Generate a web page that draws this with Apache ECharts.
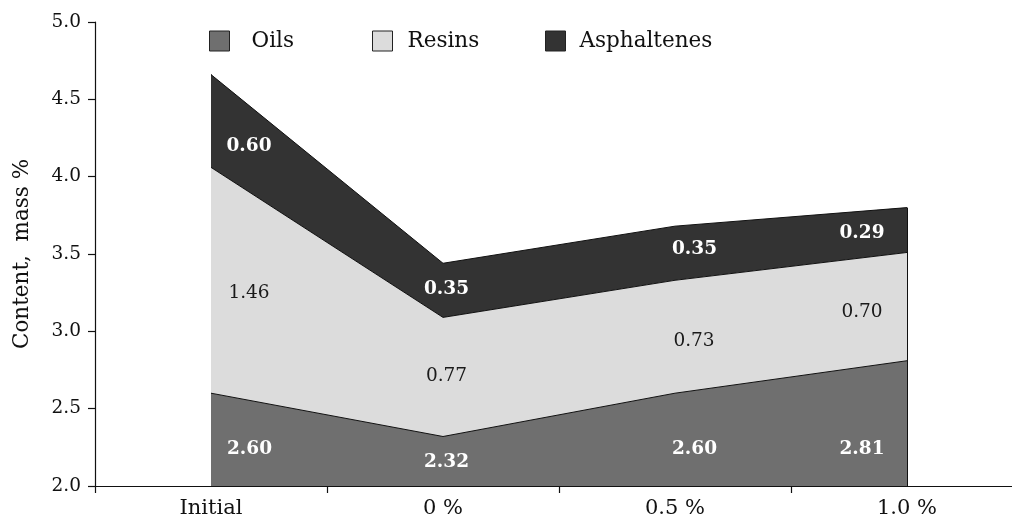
<!DOCTYPE html>
<html>
<head>
<meta charset="utf-8">
<script src="https://cdn.jsdelivr.net/npm/echarts@6/dist/echarts.min.js"></script>
<style>html,body{margin:0;padding:0;background:#fff}#c{width:1012px;height:521px}</style>
</head>
<body>
<div id="c"></div>
<script>
var categories = ['Initial', '0 %', '0.5 %', '1.0 %'];
var oils = [2.60, 2.32, 2.60, 2.81];
var resins = [1.46, 0.77, 0.73, 0.70];
var asphaltenes = [0.60, 0.35, 0.35, 0.29];
var seriesNames = ['Oils', 'Resins', 'Asphaltenes'];
var yTicks = [2.0, 2.5, 3.0, 3.5, 4.0, 4.5, 5.0];

// layout: label offsets (pixels) from each stacked point
var labelOffsets = {
  Oils: [[38.5, 56], [3.5, 25.5], [19.5, 56], [-45, 88]],
  Resins: [[38, 125.5], [3.5, 58.5], [19, 60.5], [-45, 59.5]],
  Asphaltenes: [[38, 71.5], [3.5, 25.5], [19.5, 23], [-45, 25.5]]
};
var FONT = 'DejaVu Serif';
var colors = { Oils: '#6f6f6f', Resins: '#dcdcdc', Asphaltenes: '#333333' };
var labelStyles = {
  Oils: { color: '#ffffff', fontWeight: 'bold', fontSize: 18.5 },
  Resins: { color: '#1a1a1a', fontWeight: 'normal', fontSize: 18.5 },
  Asphaltenes: { color: '#ffffff', fontWeight: 'bold', fontSize: 18.5 }
};

var values = { Oils: oils, Resins: resins, Asphaltenes: asphaltenes };
var totals = oils.map(function (v, i) { return v + resins[i] + asphaltenes[i]; });
var last = categories.length - 1;

var series = seriesNames.map(function (name, si) {
  var ls = labelStyles[name];
  return {
    name: name,
    type: 'line',
    stack: 'total',
    z: 10 - si,
    symbol: 'circle',
    symbolSize: 0,
    showSymbol: true,
    animation: false,
    itemStyle: { color: colors[name] },
    lineStyle: { color: '#111', width: 1 },
    areaStyle: { color: colors[name], opacity: 1 },
    label: {
      show: true,
      position: 'inside',
      fontFamily: FONT,
      fontSize: ls.fontSize,
      fontWeight: ls.fontWeight,
      color: ls.color,
      formatter: function (p) { return p.value.toFixed(2); }
    },
    data: values[name].map(function (v, i) {
      return { value: v, label: { offset: labelOffsets[name][i] } };
    }),
    markLine: name === 'Asphaltenes' ? {
      silent: true,
      symbol: 'none',
      label: { show: false },
      lineStyle: { color: '#111', width: 1, type: 'solid' },
      data: [
        [{ coord: [categories[0], yTicks[0]] }, { coord: [categories[0], totals[0]] }],
        [{ coord: [categories[last], yTicks[0]] }, { coord: [categories[last], totals[last]] }]
      ]
    } : undefined
  };
});

var legendPos = { Oils: [209, 17], Resins: [372, 10], Asphaltenes: [545, 9] };
var legends = seriesNames.map(function (name) {
  return {
    data: [name],
    left: legendPos[name][0],
    top: 30,
    padding: 0,
    icon: 'rect',
    itemWidth: 20,
    itemHeight: 20,
    selectedMode: false,
    itemStyle: { borderColor: '#222', borderWidth: 1 },
    textStyle: { fontFamily: FONT, fontSize: 21.5, color: '#111', padding: [0, 0, 0, legendPos[name][1]] }
  };
});

var chart = echarts.init(document.getElementById('c'), null, { renderer: 'canvas' });
chart.setOption({
  animation: false,
  backgroundColor: '#fff',
  legend: legends,
  grid: { left: 95, top: 22, height: 464, width: 928, containLabel: false, outerBoundsMode: 'none' },
  xAxis: {
    type: 'category',
    data: categories,
    boundaryGap: true,
    axisLine: { lineStyle: { color: '#111', width: 1.2 } },
    axisTick: { show: true, length: 7, alignWithLabel: false, lineStyle: { color: '#111', width: 1.2 } },
    axisLabel: { fontFamily: FONT, fontSize: 21, color: '#111', margin: 12 },
    splitLine: { show: false }
  },
  yAxis: {
    type: 'value',
    min: yTicks[0],
    max: yTicks[yTicks.length - 1],
    interval: 0.5,
    name: 'Content,  mass %',
    nameLocation: 'middle',
    nameGap: 62,
    nameTextStyle: { fontFamily: FONT, fontSize: 21.5, color: '#111' },
    axisLine: { show: true, lineStyle: { color: '#111', width: 1.2 } },
    axisTick: { show: true, length: 7, lineStyle: { color: '#111', width: 1.2 } },
    axisLabel: { fontFamily: FONT, fontSize: 18.5, color: '#111', margin: 14,
      formatter: function (v) { return v.toFixed(1); } },
    splitLine: { show: false }
  },
  series: series
});
</script>
</body>
</html>
